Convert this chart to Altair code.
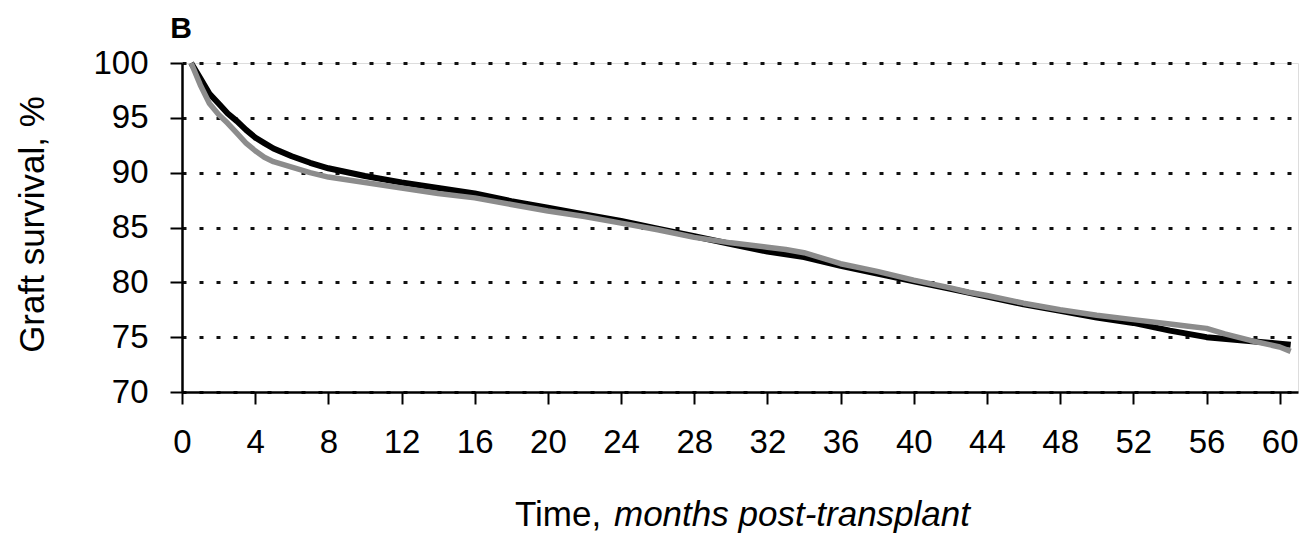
import altair as alt
import pandas as pd

# Kaplan-Meier style graft survival curves, months 0-60
months_a = [0.5, 1, 1.5, 2, 2.5, 3, 3.5, 4, 4.5, 5, 6, 7, 8, 10, 12, 14, 16, 18, 20,
            22, 24, 26, 28, 30, 32, 34, 36, 38, 40, 42, 44, 46, 48, 50, 52, 54, 56,
            58, 60, 60.6]
survival_a = [100, 98.6, 97.2, 96.3, 95.4, 94.7, 93.9, 93.2, 92.7, 92.2, 91.5, 90.9,
              90.4, 89.7, 89.1, 88.6, 88.1, 87.4, 86.8, 86.2, 85.6, 84.9, 84.2, 83.5,
              82.8, 82.3, 81.5, 80.8, 80.1, 79.4, 78.7, 78.0, 77.4, 76.8, 76.3, 75.6,
              75.0, 74.7, 74.4, 74.3]

months_b = [0.5, 1, 1.5, 2, 2.5, 3, 3.5, 4, 4.5, 5, 6, 7, 8, 10, 12, 14, 16, 18, 20,
            22, 24, 26, 28, 30, 32, 33, 34, 36, 38, 40, 42, 43, 44, 46, 48, 50, 52,
            54, 55, 56, 57, 58.4, 60, 60.6]
survival_b = [100, 98.0, 96.3, 95.3, 94.5, 93.6, 92.7, 92.0, 91.4, 91.0, 90.5, 90.0,
              89.6, 89.1, 88.6, 88.1, 87.7, 87.1, 86.5, 86.0, 85.4, 84.8, 84.1, 83.6,
              83.2, 83.0, 82.7, 81.7, 81.0, 80.2, 79.5, 79.1, 78.8, 78.1, 77.5, 77.0,
              76.6, 76.2, 76.0, 75.8, 75.3, 74.7, 74.1, 73.7]

x_ticks = list(range(0, 61, 4))
y_ticks = [70, 75, 80, 85, 90, 95, 100]

FONT = "Liberation Sans"

df = pd.concat([
    pd.DataFrame({"month": months_a, "survival": survival_a, "group": "Group 1"}),
    pd.DataFrame({"month": months_b, "survival": survival_b, "group": "Group 2"}),
])

x_scale = alt.Scale(domain=[0, 61], nice=False, zero=False)
y_scale = alt.Scale(domain=[70, 100], nice=False, zero=False)

x_axis = alt.Axis(values=x_ticks, title=None, grid=False, tickSize=12, tickWidth=2,
                  tickColor="black", domainColor="black", domainWidth=2.5,
                  labelFont=FONT, labelFontSize=33, labelColor="black",
                  labelPadding=22, labelFlush=False)
y_axis = alt.Axis(values=y_ticks, title="Graft survival, %", grid=True,
                  gridDash=[4, 13], gridWidth=3, gridColor="#111",
                  tickSize=12, tickWidth=2, tickColor="black",
                  domainColor="black", domainWidth=2.5,
                  labelFont=FONT, labelFontSize=33, labelColor="black",
                  labelPadding=22,
                  titleFont=FONT, titleFontSize=35, titleFontWeight="normal",
                  titleColor="black", titleAngle=270, titleAlign="center",
                  titleBaseline="middle", titleX=-150, titleY=161)

lines = alt.Chart(df).mark_line(strokeJoin="round").encode(
    x=alt.X("month:Q", scale=x_scale, axis=x_axis),
    y=alt.Y("survival:Q", scale=y_scale, axis=y_axis),
    color=alt.Color("group:N", scale=alt.Scale(domain=["Group 1", "Group 2"],
                                               range=["#000000", "#8c8c8c"]),
                    legend=None),
    strokeWidth=alt.StrokeWidth("group:N",
                                scale=alt.Scale(domain=["Group 1", "Group 2"],
                                                range=[6, 5.5]),
                                legend=None),
    order=alt.Order("group:N", sort="ascending"),
)

label_df = pd.DataFrame({"t": ["B"]})
panel_label = alt.Chart(label_df).mark_text(
    font=FONT, fontSize=30, fontWeight="bold", color="black",
    align="center", baseline="middle"
).encode(text="t:N", x=alt.value(-1), y=alt.value(-34))

xt1 = alt.Chart(pd.DataFrame({"t": ["Time,"]})).mark_text(
    font=FONT, fontSize=35, color="black", align="left", baseline="middle"
).encode(text="t:N", x=alt.value(333), y=alt.value(452))

xt2 = alt.Chart(pd.DataFrame({"t": ["months post-transplant"]})).mark_text(
    font=FONT, fontSize=35, fontStyle="italic", color="black",
    align="left", baseline="middle"
).encode(text="t:N", x=alt.value(432), y=alt.value(452))

chart = alt.layer(lines, panel_label, xt1, xt2).properties(
    width=1116, height=329,
    autosize=alt.AutoSizeParams(type="none"),
    padding={"left": 182, "top": 63, "right": 10, "bottom": 142},
).configure_view(stroke=None).configure(background="white")

chart.save("out.html", embed_options={"renderer": "svg", "actions": False})
